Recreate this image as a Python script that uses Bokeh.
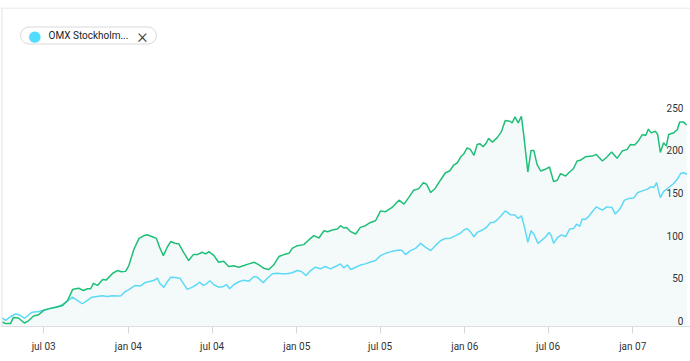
import pandas as pd
from bokeh.plotting import figure
from bokeh.models import LinearAxis, FixedTicker, Range1d, Label, Span
from bokeh.embed import file_html
from bokeh.resources import INLINE

# ---------------- data ----------------
origin = "2003-07-01"  # x values are days since this date
tick_dates = ["2003-07-01", "2004-01-01", "2004-07-01", "2005-01-01",
              "2005-07-01", "2006-01-01", "2006-07-01", "2007-01-01"]
tick_labels = ["jul 03", "jan 04", "jul 04", "jan 05",
               "jul 05", "jan 06", "jul 06", "jan 07"]
y_ticks = [0, 50, 100, 150, 200, 250]
legend_text = "OMX Stockholm..."

green_day = [-90, -83, -72, -66, -55, -42, -33, -22, -11, 0,
             10, 26, 41, 52, 63, 69, 76, 86, 95, 102,
             108, 117, 128, 136, 150, 160, 169, 178, 185, 196,
             207, 218, 225, 236, 245, 252, 260, 268, 276, 285,
             294, 304, 315, 325, 334, 344, 352, 359, 370, 380,
             391, 402, 413, 424, 435, 446, 457, 467, 478, 489,
             500, 511, 522, 533, 540, 551, 565, 576, 587, 598,
             609, 617, 627, 638, 645, 652, 658, 667, 678, 688,
             699, 710, 721, 732, 743, 757, 772, 783, 793, 804,
             815, 825, 832, 841, 851, 862, 873, 882, 891, 899,
             906, 913, 920, 927, 935, 942, 948, 955, 962, 967,
             975, 985, 994, 1003, 1013, 1018, 1024, 1031, 1038, 1043,
             1052, 1059, 1065, 1072, 1080, 1090, 1099, 1108, 1116, 1123,
             1134, 1141, 1151, 1159, 1166, 1177, 1192, 1201, 1214, 1224,
             1234, 1246, 1257, 1268, 1275, 1284, 1293, 1301, 1308, 1314,
             1320, 1329, 1334, 1340, 1347, 1353, 1358, 1369, 1377, 1382,
             1390, 1397]
green_val = [-1.4, -3.3, -3.3, 4, 3.3, -2.6, 0, 5.6, 7.2, 12.3,
             14, 16, 18, 24, 36.8, 37.6, 38.3, 35.6, 37.6, 37.6,
             44, 41.5, 48.5, 48, 55.8, 59, 57.5, 58, 64.8, 84,
             96.7, 100, 101, 98.7, 96.7, 86, 76.5, 86, 93, 91,
             90, 80.4, 70.7, 77.7, 77.7, 80.4, 78.5, 81.2, 76.5, 68.7,
             70, 63.7, 64.5, 62.9, 64.8, 66.8, 68.7, 66, 61.7, 60.2,
             65.7, 75.4, 77.7, 79.2, 85, 88.2, 89.4, 94.9, 99.9, 97.2,
             105.7, 104.6, 106.5, 107.7, 111.6, 108.9, 109.6, 104.6, 101.9, 109.6,
             111.6, 115.4, 117.4, 129, 128, 133, 141.6, 137, 144.6, 153.3,
             155.1, 162.2, 160.3, 150.5, 155.6, 165, 173.8, 175.8, 182.8, 185.5,
             192.2, 196, 203, 201.2, 194.2, 207, 207.7, 204.2, 209, 214,
             209.7, 214.7, 221.4, 235, 234.2, 232.2, 239.3, 232.2, 240, 218.7,
             174.6, 200, 200, 183.6, 175.8, 177.8, 180.5, 163.3, 165, 172.7,
             170, 173.8, 178.5, 187.5, 188.3, 192.5, 193.3, 195.3, 187.5, 192.2,
             198, 190.7, 199.2, 201.2, 207, 206.2, 211.7, 218.7, 217.5, 224.9,
             220.6, 222.5, 219, 197.6, 208.9, 205, 218.7, 220.6, 224.5, 233.4,
             233.4, 230]

cyan_day = [-90, -83, -72, -61, -50, -42, -32, -25, -11, 0,
            15, 29, 37, 51, 62, 73, 84, 95, 105, 116,
            127, 138, 149, 160, 168, 176, 185, 199, 210, 221,
            232, 239, 247, 252, 261, 268, 276, 286, 296, 304,
            312, 323, 332, 339, 347, 354, 361, 370, 380, 391,
            397, 404, 413, 424, 435, 446, 457, 464, 477, 486,
            497, 507, 518, 529, 540, 551, 560, 570, 580, 591,
            601, 612, 623, 634, 645, 652, 660, 667, 678, 688,
            699, 710, 721, 732, 743, 757, 772, 779, 786, 797,
            808, 819, 830, 841, 851, 862, 873, 884, 895, 906,
            913, 920, 927, 935, 942, 953, 962, 971, 978, 985,
            994, 1003, 1014, 1024, 1031, 1038, 1045, 1052, 1059, 1065,
            1074, 1083, 1090, 1098, 1103, 1108, 1117, 1125, 1134, 1143,
            1152, 1158, 1165, 1170, 1177, 1184, 1192, 1201, 1214, 1224,
            1235, 1242, 1252, 1262, 1271, 1282, 1291, 1301, 1312, 1319,
            1326, 1332, 1337, 1340, 1347, 1358, 1369, 1377, 1384, 1391,
            1398]
cyan_val = [3.5, 0.4, 5, 8.2, 6.2, 3, 7.4, 10.1, 11, 12.3,
            14.6, 16.1, 18, 22.6, 27.7, 24, 20, 24, 27.7, 28.6,
            29.4, 28.6, 29.4, 29, 29.4, 33.8, 36.6, 41.5, 40.7, 45,
            46.5, 47.3, 50, 44.2, 39.1, 45.3, 51.2, 50.8, 50, 43.4,
            36.8, 39.5, 42.3, 45.3, 41.5, 43.4, 47, 42.3, 39.5, 40.3,
            42.6, 37.6, 42.3, 45.8, 47.7, 46.5, 52, 51.2, 44.6, 50,
            55.2, 55.8, 55.2, 55.2, 56.4, 59, 57.9, 53.2, 59, 62.9,
            61, 63.7, 61, 63.7, 66.8, 62, 65.7, 60.2, 62.9, 65.4,
            66.8, 69, 70.7, 76.5, 79.2, 81.5, 83.2, 82.4, 77.7, 82.4,
            85, 90.9, 86.2, 82.4, 88.2, 94, 96.7, 97, 99.9, 103,
            106.5, 108.4, 104.6, 98.7, 103.7, 106.5, 109.5, 115.4, 115.4, 118.2,
            123.3, 129, 124.5, 124.1, 120.1, 123.3, 109.6, 92.1, 105.7, 101.9,
            90.9, 94.9, 98, 103.7, 99.9, 90.9, 98, 100.8, 98.7, 107.7,
            108.4, 113.5, 110.8, 119.4, 119, 122.2, 128, 133.7, 129.8, 133.7,
            132.9, 125.2, 131.1, 141.6, 143.4, 144, 150.5, 152.5, 154.5, 157.2,
            156.4, 162.2, 150.5, 144.6, 151.6, 156.4, 161.1, 166.3, 172.8, 173.8,
            172]

# ---------------- chart ----------------
tick_days = [(pd.Timestamp(d) - pd.Timestamp(origin)).days for d in tick_dates]

GREEN = "#1fbf78"
CYAN = "#5dd9f5"
FILL = "#f4faf9"
BORDER = "#e2e2e2"
FONT = "Roboto"
y_floor = -6.7

W, H = 690, 360
TOP, BOTTOM = 7, 34
p = figure(width=W, height=H, output_backend="svg", toolbar_location=None,
           x_range=Range1d(-93.9, 1405.5), y_range=Range1d(y_floor, 367.7),
           y_axis_location=None, min_border_left=0, min_border_right=0,
           min_border_top=TOP, min_border_bottom=BOTTOM)
p.grid.visible = False
p.outline_line_color = None
p.background_fill_color = "white"
p.border_fill_color = "white"

# areas
p.varea(x=green_day, y1=y_floor, y2=green_val, fill_color=FILL)
p.varea(x=cyan_day, y1=y_floor, y2=cyan_val, fill_color=FILL)
# lines
p.line(cyan_day, cyan_val, line_color=CYAN, line_width=1.5)
p.line(green_day, green_val, line_color=GREEN, line_width=1.5)

# x axis
xa = p.xaxis[0]
xa.ticker = FixedTicker(ticks=tick_days)
xa.major_label_overrides = dict(zip(tick_days, tick_labels))
xa.minor_tick_line_color = None
xa.major_tick_in = 0
xa.major_tick_out = 7
xa.major_tick_line_color = "#d6d6d6"
xa.axis_line_color = "#dedede"
xa.major_label_standoff = 7
xa.major_label_text_font = FONT
xa.major_label_text_font_size = "10px"
xa.major_label_text_color = "#333333"

# y axis drawn at the right edge, inside the plot area
ya = LinearAxis(fixed_location=1394.6, ticker=FixedTicker(ticks=y_ticks))
ya.axis_line_color = None
ya.major_tick_line_color = None
ya.minor_tick_line_color = None
ya.major_tick_in = 0
ya.major_tick_out = 0
ya.major_label_standoff = 2
ya.major_label_text_font = FONT
ya.major_label_text_font_size = "10px"
ya.major_label_text_color = "#333333"
p.add_layout(ya, "left")

# card border (top, left, bottom)
frame_h = H - TOP - BOTTOM
p.add_layout(Span(location=frame_h - 0.5, location_units="screen", dimension="width",
                  line_color=BORDER, line_width=1))
p.add_layout(Span(location=1.5, location_units="screen", dimension="height",
                  line_color=BORDER, line_width=1))
p.add_layout(Span(location=-(BOTTOM - 0.5), location_units="screen", dimension="width",
                  line_color=BORDER, line_width=1))

# legend pill
pill = Label(x=20, y=frame_h - 28, x_units="screen", y_units="screen", text=legend_text,
             text_font=FONT, text_font_size="10px", text_color="#222222",
             text_align="left", text_baseline="middle",
             padding=(28, 3), border_radius=9,
             background_fill_color="white", border_line_color="#d9d9d9",
             border_line_width=1)
p.add_layout(pill)
dot = Label(x=34, y=frame_h - 28.5, x_units="screen", y_units="screen", text="\u25cf",
            text_font="DejaVu Sans", text_font_size="15px", text_color="#52dcfd",
            text_align="center", text_baseline="middle")
p.add_layout(dot)
close = Label(x=142, y=frame_h - 28.5, x_units="screen", y_units="screen", text="\u00d7",
              text_font="'Roboto Light', 'Roboto Thin', Roboto", text_font_size="20px",
              text_color="#444444", text_align="center", text_baseline="middle")
p.add_layout(close)

open("out.html", "w").write(file_html(p, INLINE))
